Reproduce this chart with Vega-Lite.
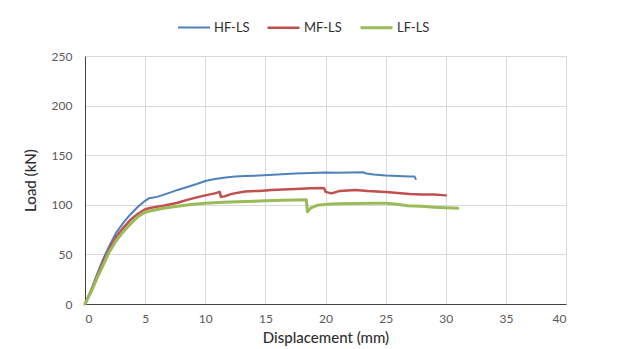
{
  "$schema": "https://vega.github.io/schema/vega-lite/v6.json",
  "width": 481,
  "height": 248,
  "autosize": {"type": "none"},
  "padding": {"left": 85, "top": 56, "right": 63, "bottom": 45},
  "background": "white",
  "config": {
    "view": {"stroke": null},
    "font": "Lato",
    "axis": {
      "gridColor": "#D9D9D9",
      "gridWidth": 1,
      "ticks": false,
      "labelFont": "Lato",
      "labelFontSize": 12,
      "labelColor": "#595959",
      "titleFont": "Lato",
      "titleFontSize": 15,
      "titleFontWeight": 500,
      "titleColor": "#303030",
      "domainColor": "#404040",
      "domainWidth": 1
    }
  },
  "data": {
    "values": [
      {"series": "HF-LS", "x": 0, "y": 0},
      {"series": "HF-LS", "x": 0.5, "y": 14},
      {"series": "HF-LS", "x": 1, "y": 30},
      {"series": "HF-LS", "x": 1.5, "y": 45},
      {"series": "HF-LS", "x": 2, "y": 58},
      {"series": "HF-LS", "x": 2.6, "y": 72},
      {"series": "HF-LS", "x": 3.2, "y": 82},
      {"series": "HF-LS", "x": 3.75, "y": 90},
      {"series": "HF-LS", "x": 4.4, "y": 98},
      {"series": "HF-LS", "x": 5, "y": 104},
      {"series": "HF-LS", "x": 5.3, "y": 106.5},
      {"series": "HF-LS", "x": 6, "y": 108},
      {"series": "HF-LS", "x": 7, "y": 112},
      {"series": "HF-LS", "x": 7.7, "y": 115},
      {"series": "HF-LS", "x": 8.5, "y": 118},
      {"series": "HF-LS", "x": 9.3, "y": 121},
      {"series": "HF-LS", "x": 10, "y": 124},
      {"series": "HF-LS", "x": 10.8, "y": 126},
      {"series": "HF-LS", "x": 11.7, "y": 127.5},
      {"series": "HF-LS", "x": 12.5, "y": 128.5},
      {"series": "HF-LS", "x": 13.3, "y": 129},
      {"series": "HF-LS", "x": 14.5, "y": 129.5},
      {"series": "HF-LS", "x": 16, "y": 130.5},
      {"series": "HF-LS", "x": 17.5, "y": 131.5},
      {"series": "HF-LS", "x": 18.8, "y": 132},
      {"series": "HF-LS", "x": 20, "y": 132.5},
      {"series": "HF-LS", "x": 21, "y": 132.3},
      {"series": "HF-LS", "x": 22, "y": 132.5},
      {"series": "HF-LS", "x": 23.1, "y": 132.8},
      {"series": "HF-LS", "x": 23.4, "y": 131.5},
      {"series": "HF-LS", "x": 24, "y": 130.5},
      {"series": "HF-LS", "x": 25, "y": 129.5},
      {"series": "HF-LS", "x": 26, "y": 129},
      {"series": "HF-LS", "x": 27, "y": 128.5},
      {"series": "HF-LS", "x": 27.4, "y": 128.5},
      {"series": "HF-LS", "x": 27.5, "y": 126},
      {"series": "MF-LS", "x": 0, "y": 0},
      {"series": "MF-LS", "x": 0.5, "y": 13},
      {"series": "MF-LS", "x": 1, "y": 28},
      {"series": "MF-LS", "x": 1.5, "y": 42},
      {"series": "MF-LS", "x": 2, "y": 55},
      {"series": "MF-LS", "x": 2.6, "y": 68},
      {"series": "MF-LS", "x": 3.2, "y": 77},
      {"series": "MF-LS", "x": 3.8, "y": 85},
      {"series": "MF-LS", "x": 4.4, "y": 91},
      {"series": "MF-LS", "x": 5, "y": 95.5},
      {"series": "MF-LS", "x": 5.5, "y": 97},
      {"series": "MF-LS", "x": 6.5, "y": 99},
      {"series": "MF-LS", "x": 7.7, "y": 102},
      {"series": "MF-LS", "x": 8.5, "y": 105},
      {"series": "MF-LS", "x": 9.3, "y": 107.5},
      {"series": "MF-LS", "x": 10, "y": 109.5},
      {"series": "MF-LS", "x": 10.8, "y": 111.5},
      {"series": "MF-LS", "x": 11.2, "y": 113},
      {"series": "MF-LS", "x": 11.3, "y": 108},
      {"series": "MF-LS", "x": 11.6, "y": 108.5},
      {"series": "MF-LS", "x": 12.2, "y": 111},
      {"series": "MF-LS", "x": 13.3, "y": 113.5},
      {"series": "MF-LS", "x": 14.5, "y": 114},
      {"series": "MF-LS", "x": 15.5, "y": 115},
      {"series": "MF-LS", "x": 16.5, "y": 115.5},
      {"series": "MF-LS", "x": 17.5, "y": 116},
      {"series": "MF-LS", "x": 18.8, "y": 116.8},
      {"series": "MF-LS", "x": 19.7, "y": 117},
      {"series": "MF-LS", "x": 19.9, "y": 116.5},
      {"series": "MF-LS", "x": 20, "y": 113},
      {"series": "MF-LS", "x": 20.5, "y": 111.5},
      {"series": "MF-LS", "x": 21.2, "y": 114},
      {"series": "MF-LS", "x": 22.5, "y": 115},
      {"series": "MF-LS", "x": 23.5, "y": 114},
      {"series": "MF-LS", "x": 25, "y": 113},
      {"series": "MF-LS", "x": 26, "y": 112},
      {"series": "MF-LS", "x": 27, "y": 111},
      {"series": "MF-LS", "x": 28, "y": 110.5},
      {"series": "MF-LS", "x": 29, "y": 110.5},
      {"series": "MF-LS", "x": 30, "y": 109.5},
      {"series": "LF-LS", "x": 0, "y": 0},
      {"series": "LF-LS", "x": 0.5, "y": 12},
      {"series": "LF-LS", "x": 1, "y": 26},
      {"series": "LF-LS", "x": 1.5, "y": 39},
      {"series": "LF-LS", "x": 2, "y": 52},
      {"series": "LF-LS", "x": 2.6, "y": 64},
      {"series": "LF-LS", "x": 3.2, "y": 73},
      {"series": "LF-LS", "x": 3.8, "y": 81},
      {"series": "LF-LS", "x": 4.4, "y": 88},
      {"series": "LF-LS", "x": 5, "y": 92.5},
      {"series": "LF-LS", "x": 5.5, "y": 94},
      {"series": "LF-LS", "x": 6.5, "y": 96.5},
      {"series": "LF-LS", "x": 7.7, "y": 98.5},
      {"series": "LF-LS", "x": 9, "y": 100.5},
      {"series": "LF-LS", "x": 10, "y": 101.5},
      {"series": "LF-LS", "x": 11.5, "y": 102.5},
      {"series": "LF-LS", "x": 13.3, "y": 103.3},
      {"series": "LF-LS", "x": 15, "y": 104},
      {"series": "LF-LS", "x": 16.5, "y": 104.5},
      {"series": "LF-LS", "x": 18.4, "y": 105},
      {"series": "LF-LS", "x": 18.5, "y": 93},
      {"series": "LF-LS", "x": 18.8, "y": 97},
      {"series": "LF-LS", "x": 19.3, "y": 99.5},
      {"series": "LF-LS", "x": 20.2, "y": 100.5},
      {"series": "LF-LS", "x": 21, "y": 101},
      {"series": "LF-LS", "x": 22.5, "y": 101.3},
      {"series": "LF-LS", "x": 24, "y": 101.5},
      {"series": "LF-LS", "x": 25, "y": 101.5},
      {"series": "LF-LS", "x": 26, "y": 100.5},
      {"series": "LF-LS", "x": 26.8, "y": 99},
      {"series": "LF-LS", "x": 28, "y": 98.5},
      {"series": "LF-LS", "x": 29, "y": 97.5},
      {"series": "LF-LS", "x": 30, "y": 97},
      {"series": "LF-LS", "x": 31, "y": 96.5}
    ]
  },
  "mark": {"type": "line", "interpolate": "linear", "strokeJoin": "round", "strokeCap": "round"},
  "encoding": {
    "x": {
      "field": "x",
      "type": "quantitative",
      "title": "Displacement (mm)",
      "scale": {"domain": [0, 40], "nice": false, "zero": true},
      "axis": {"values": [0, 5, 10, 15, 20, 25, 30, 35, 40], "labelPadding": 9, "titlePadding": 6, "grid": true}
    },
    "y": {
      "field": "y",
      "type": "quantitative",
      "title": "Load (kN)",
      "scale": {"domain": [0, 250], "nice": false},
      "axis": {"values": [0, 50, 100, 150, 200, 250], "labelPadding": 13, "titlePadding": 13, "grid": true}
    },
    "color": {
      "field": "series",
      "type": "nominal",
      "sort": ["HF-LS", "MF-LS", "LF-LS"],
      "scale": {"domain": ["HF-LS", "MF-LS", "LF-LS"], "range": ["#4F81BD", "#C0504D", "#9BBB59"]},
      "legend": {
        "orient": "none",
        "direction": "horizontal",
        "legendX": 92,
        "legendY": -46,
        "title": null,
        "padding": 0,
        "symbolType": "stroke",
        "symbolSize": 1024,
        "symbolStrokeWidth": 3,
        "labelFont": "Lato",
        "labelFontSize": 13,
        "labelColor": "#303030",
        "labelOffset": 3,
        "columnPadding": 12
      }
    },
    "strokeWidth": {
      "field": "series",
      "type": "nominal",
      "scale": {"domain": ["HF-LS", "MF-LS", "LF-LS"], "range": [2, 3, 3.5]},
      "legend": null
    },
    "order": {"field": "x", "type": "quantitative"}
  }
}
